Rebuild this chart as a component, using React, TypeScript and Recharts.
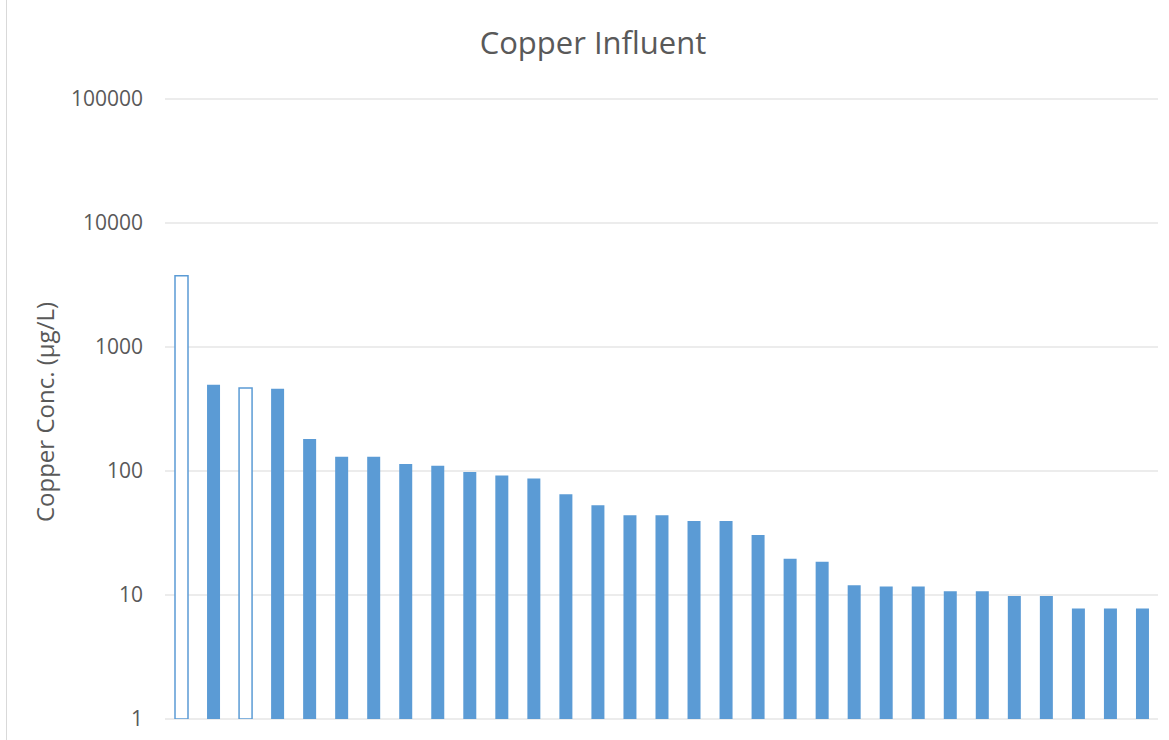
import { BarChart, Bar, XAxis, YAxis, CartesianGrid, Cell } from "recharts"

const samples = [
  "S1", "S2", "S3", "S4", "S5", "S6", "S7", "S8", "S9", "S10",
  "S11", "S12", "S13", "S14", "S15", "S16", "S17", "S18", "S19", "S20",
  "S21", "S22", "S23", "S24", "S25", "S26", "S27", "S28", "S29", "S30", "S31",
]
const copper = [
  3750, 495, 467, 460, 181, 130, 130, 114, 110, 98,
  92, 87, 65, 53, 44, 44, 39.5, 39.5, 30.5, 19.6,
  18.5, 12, 11.7, 11.7, 10.7, 10.7, 9.8, 9.8, 7.8, 7.8, 7.8,
]
// samples drawn as outlined (hollow) bars
const hollow = ["S1", "S3"]
const yTicks = [1, 10, 100, 1000, 10000, 100000]

const data = samples.map((s, i) => ({ sample: s, copper: copper[i] }))

const BLUE = "#5B9BD5"
const TEXT = "#595959"
const FONT = "'Open Sans', sans-serif"

export default function App() {
  return (
    <div style={{ position: "absolute", left: 0, top: 0, width: 1169, height: 740, background: "#fff", fontFamily: FONT }}>
      <div style={{ position: "absolute", left: 6, top: 0, width: 1, height: 740, background: "#d9d9d9" }} />
      <div
        style={{
          position: "absolute",
          left: 0,
          width: 1186,
          top: 21,
          textAlign: "center",
          fontSize: 31,
          color: TEXT,
        }}
      >
        Copper Influent
      </div>
      <BarChart
        width={1169}
        height={740}
        data={data}
        margin={{ top: 99, right: 11, left: 0, bottom: 21 }}
        barCategoryGap={0}
      >
        <CartesianGrid vertical={false} stroke="#d9d9d9" strokeWidth={1} />
        <XAxis dataKey="sample" hide />
        <YAxis
          scale="log"
          domain={[1, 100000]}
          ticks={yTicks}
          allowDataOverflow
          width={165}
          axisLine={false}
          tickLine={false}
          tickSize={0}
          tickMargin={22}
          tick={{ fontSize: 21, fill: TEXT, fontFamily: FONT }}
          label={{
            value: "Copper Conc. (µg/L)",
            angle: -90,
            position: "insideLeft",
            dx: 40,
            dy: 3,
            style: { fontSize: 24, fill: TEXT, fontFamily: FONT, textAnchor: "middle" },
          }}
        />
        <Bar dataKey="copper" barSize={13} isAnimationActive={false}>
          {data.map((d) =>
            hollow.includes(d.sample) ? (
              <Cell key={d.sample} fill="#ffffff" stroke={BLUE} strokeWidth={1.5} />
            ) : (
              <Cell key={d.sample} fill={BLUE} />
            )
          )}
        </Bar>
      </BarChart>
    </div>
  )
}
